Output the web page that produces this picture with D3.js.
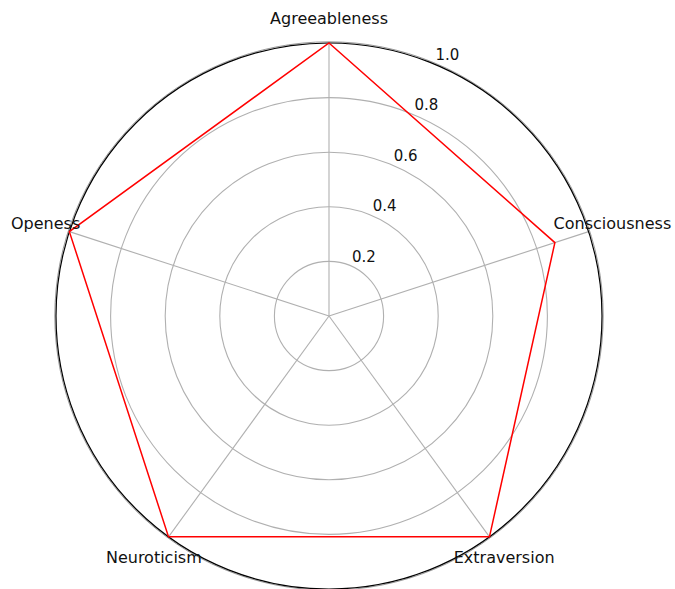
<!DOCTYPE html>
<html>
<head>
<script src="https://cdn.jsdelivr.net/npm/d3@7"></script>
<style>
  body { margin: 0; background: #fff; font-family: "DejaVu Sans", sans-serif; }
</style>
</head>
<body>
<svg id="chart"></svg>
<script>
let categories = ["Agreeableness", "Consciousness", "Extraversion", "Neuroticism", "Openess"];
let values = [1.0, 0.87, 1.0, 1.0, 1.0];
let rTicks = [0.2, 0.4, 0.6, 0.8, 1.0];

let width = 675, height = 589;
let cx = 329, cy = 316, radius = 273;

let svg = d3.select("#chart").attr("width", width).attr("height", height);
let g = svg.append("g").attr("transform", `translate(${cx},${cy})`);

let rScale = d3.scaleLinear().domain([0, 1]).range([0, radius]);
// angle in radians, clockwise from the top
let aScale = d3.scalePoint().domain(categories).range([0, 2 * Math.PI * (categories.length - 1) / categories.length]);

function pt(angle, r) {
  return [Math.sin(angle) * r, -Math.cos(angle) * r];
}

// grid circles
g.selectAll(".grid")
  .data(rTicks.slice(0, -1))
  .enter().append("circle")
  .attr("r", d => rScale(d))
  .attr("fill", "none")
  .attr("stroke", "#b0b0b0")
  .attr("stroke-width", 1.1);

// spokes
g.selectAll(".spoke")
  .data(categories)
  .enter().append("line")
  .attr("x1", 0).attr("y1", 0)
  .attr("x2", d => pt(aScale(d), radius)[0])
  .attr("y2", d => pt(aScale(d), radius)[1])
  .attr("stroke", "#b0b0b0")
  .attr("stroke-width", 1.1);

// outer frame
g.append("circle").attr("r", radius + 1.2).attr("fill", "none").attr("stroke", "#999").attr("stroke-width", 1);
g.append("circle").attr("r", radius).attr("fill", "none").attr("stroke", "#000").attr("stroke-width", 1.2);

// data polygon
let line = d3.lineRadial()
  .angle((d, i) => aScale(categories[i]))
  .radius(d => rScale(d))
  .curve(d3.curveLinearClosed);

g.append("path")
  .attr("d", line(values))
  .attr("fill", "none")
  .attr("stroke", "#ff0000")
  .attr("stroke-width", 1.5);

// r tick labels
let labelAngle = Math.PI / 8;
g.selectAll(".rtick")
  .data(rTicks)
  .enter().append("text")
  .attr("x", d => pt(labelAngle, rScale(d))[0] + 2)
  .attr("y", d => pt(labelAngle, rScale(d))[1] - 4)
  .attr("font-size", 15)
  .attr("fill", "#111")
  .text(d => d.toFixed(1));

// category labels
g.selectAll(".cat")
  .data(categories)
  .enter().append("text")
  .attr("x", d => pt(aScale(d), 298)[0])
  .attr("y", d => pt(aScale(d), 298)[1])
  .attr("text-anchor", "middle")
  .attr("dominant-baseline", "central")
  .attr("font-size", 16)
  .attr("fill", "#111")
  .text(d => d);
</script>
</body>
</html>
